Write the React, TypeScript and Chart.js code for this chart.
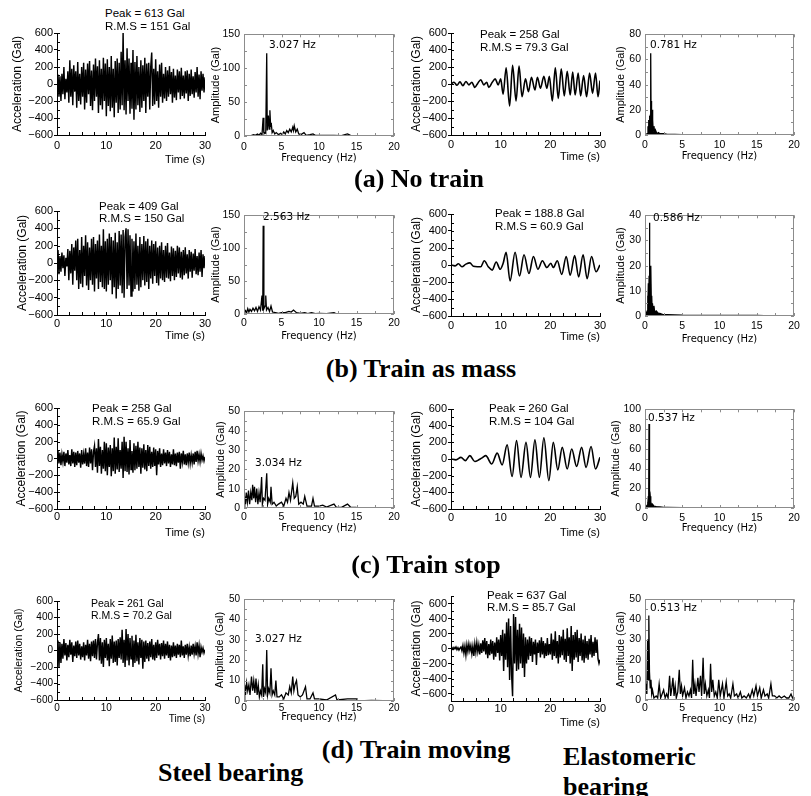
import React, { useEffect, useRef } from "react";
import { Chart, registerables } from "chart.js";
Chart.register(...registerables);

const SANS = '"Liberation Sans", Arial, sans-serif';
const DEJA = '"DejaVu Sans", sans-serif';
const SERIF = '"Liberation Serif", "Times New Roman", serif';

// ---------- Steel bearing acceleration records (Gal), 0..30 s, evenly spaced ----------
const accSteelNoTrain: number[] = [
  0, 110, -150, 90, -200, 120, -120, 200, -180, 60,
  -100, 150, -220, 280, -150, 180, -250, 220, -90, 150,
  -280, 260, -200, 120, -240, 200, -150, 250, -300, 170,
  -220, 240, -120, 270, -260, 160, -310, 230, -200, 300,
  -150, 210, -340, 280, -250, 180, -300, 310, -200, 240,
  -380, 290, -260, 200, -320, 330, -280, 180, -390, 270,
  -220, 300, -340, 250, -300, 380, -250, 613, -310, 280,
  -360, 420, -200, 300, -350, 250, -290, 400, -420, 260,
  -300, 330, -250, 200, -330, 280, -280, 220, -200, 310,
  -340, 240, -150, 250, -300, 200, 370, -260, 180, -240,
  290, -200, 150, -280, 230, -150, 250, -220, 120, -170,
  200, -200, 160, -150, 210, -120, 140, -220, 180, -160,
  100, -190, 170, -100, 150, -180, 190, -140, 100, -170,
  150, -110, 160, -200, 120, -140, 170, -120, 90, -160,
  140, -100, 200, -150, 110, -180, 150, -80, 120, -100,
  80,
];
const accSteelMass: number[] = [
  0, 150, -130, 80, -100, 120, -60, 90, -150, 60,
  -40, 160, -200, 140, -120, 220, -250, 180, -90, 260,
  -200, 280, -300, 150, -240, 300, -280, 200, -150, 320,
  -260, 240, -310, 180, -200, 280, -250, 300, -330, 220,
  -180, 260, -300, 330, -220, 200, -280, 390, -300, 250,
  -330, 280, -250, 340, -200, 300, -360, 260, -280, 350,
  -410, 240, -300, 370, -260, 330, -350, 380, -400, 300,
  400, -300, 390, -260, 320, -380, 280, -330, 250, -300,
  340, -250, 200, -320, 300, -280, 220, -200, 310, -260,
  250, -220, 280, -300, 200, -180, 260, -240, 220, -150,
  250, -230, 180, -260, 200, -180, 240, -200, 150, -220,
  200, -170, 230, -180, 120, -210, 190, -150, 170, -200,
  140, -160, 200, -120, 180, -170, 130, -190, 150, -140,
  180, -120, 100, -180, 150, -100, 130, -170, 110, -90,
  160, -130, 80, -140, 120, -100, 150, -160, 100, -60,
  80,
];
const accSteelStop: number[] = [
  0, 90, -60, 70, -80, 50, -40, 80, -90, 60,
  -50, 100, -70, 40, -90, 110, -60, 80, -100, 70,
  -80, 90, -50, 60, -110, 100, -70, 50, -60, 120,
  -90, 70, -100, 130, -60, 110, -140, 80, 150, -100,
  120, -170, 230, -90, 140, -180, 100, -120, 200, -150,
  180, -200, 130, -100, 160, -210, 120, -150, 250, -180,
  140, -130, 240, -160, 100, -120, 200, -230, 258, -150,
  200, -160, 120, -190, 220, -130, 90, -170, 180, -140,
  150, -120, 200, -100, 130, -180, 120, -110, 170, -130,
  100, -150, 160, -90, 140, -120, 80, -100, 130, -90,
  110, -200, 90, -70, 120, -100, 60, -80, 110, -60,
  70, -90, 100, -60, 80, -100, 50, -70, 110, -80,
  60, -90, 70, -50, 80, -120, 60, -40, 90, -70,
  50, -80, 60, -50, 70, -60, 40, -50, 60, -70,
  80, -40, 90, -30, 50, -40, 60, -20, 30, -30,
  20,
];
const accSteelMoving: number[] = [
  0, 120, -200, 100, -150, 80, -100, 140, -60, 90,
  -120, 70, -80, 130, -50, 100, -140, 60, -70, 110,
  -90, 120, -60, 80, -110, 50, -80, 100, -120, 70,
  -60, 130, -100, 80, -130, 110, -70, 120, -90, 140,
  -110, 90, 200, -120, 150, -160, 100, -200, 130, -90,
  150, -120, 80, -190, 140, -100, 180, -150, 110, -140,
  120, -180, 140, -90, 160, -110, 250, -150, 130, -200,
  261, -120, 200, -180, 150, -100, 180, -200, 120, -150,
  190, -130, 100, -170, 150, -90, 130, -220, 110, -140,
  120, -100, 90, -130, 110, -80, 140, -110, 70, -120,
  100, -90, 130, -60, 80, -110, 90, -70, 120, -100,
  80, -60, 110, -90, 70, -120, 60, -80, 100, -70,
  60, -90, 80, -50, 70, -80, 120, -60, 50, -90,
  70, -50, 80, -60, 40, -70, 60, -50, 80, -40,
  50, -60, 100, -40, 60, -80, 40, -20, 30, -30,
  10,
];
// ---------- Elastomeric bearing acceleration records ----------
// smooth records: [time s, acceleration Gal] at the turning points
const accElasNoTrain: [number, number][] = [
  [0, 0], [0.6, 20], [1.2, -15], [1.8, 25], [2.4, -20], [3, 30], [3.6, -10], [4.2, 20], [4.8, -40], [5.4, 10],
  [6, 50], [6.6, -10], [7.2, 20], [7.6, -40], [8.3, 20], [8.9, 60], [9.5, -10], [10, 60], [10.5, -120], [11.1, 190],
  [11.8, -258], [12.4, 220], [13.1, -200], [13.7, 210], [14.3, -150], [15.0, 60], [15.6, -90], [16.2, 80], [16.9, -70], [17.4, 80],
  [18.0, -50], [18.7, 90], [19.3, -50], [19.8, 90], [20.4, -200], [21.0, 190], [21.6, -170], [22.2, 180], [22.8, -140], [23.4, 150],
  [24.0, -130], [24.5, 140], [25.0, -130], [25.6, 130], [26.1, -140], [26.7, 100], [27.3, -150], [27.9, 130], [28.5, -110], [29.1, 130],
  [29.6, -150], [30, 40],
];
const accElasMass: [number, number][] = [
  [0, 0], [0.8, -10], [1.5, 15], [2.2, -20], [3, 10], [3.8, 25], [4.5, -15], [5.3, -20], [6, -20], [6.7, 50],
  [7.5, -20], [8.3, -60], [9.1, 35], [9.9, -50], [10.5, 20], [11.1, 150], [11.9, -189], [12.9, 150], [13.8, -130], [14.7, 120],
  [15.7, -100], [16.6, 100], [17.5, -50], [18.4, 50], [19.3, -30], [20.1, 20], [20.6, -30], [21.4, 50], [22.3, -110], [23.2, 100],
  [24.0, -120], [24.9, 110], [25.7, -140], [26.6, 120], [27.4, -160], [28.3, 100], [29.2, -80], [30, 0],
];
const accElasStop: [number, number][] = [
  [0, 0], [1, -10], [2, 20], [2.9, -20], [3.8, 40], [4.8, -30], [5.6, -10], [6.4, 20], [7, 40], [8.2, -60],
  [9.3, 70], [10.3, -70], [11.3, 170], [12.3, -210], [13.2, 220], [14.1, -220], [15.1, 200], [16, -220], [16.9, 230], [17.8, -220],
  [18.7, 255], [19.7, -260], [20.6, 200], [21.5, -130], [22.4, 140], [23.4, -120], [24.3, 120], [25.3, -90], [26.3, 140], [27.2, -100],
  [28.2, 150], [29.1, -120], [30, 20],
];
const accElasMoving: number[] = [
  0, 10, -10, 15, -5, 20, -15, 10, -20, 5,
  20, -30, 40, -60, 30, -90, 50, -40, 60, -30,
  40, -70, 30, -100, 60, -50, 80, -40, 50, -80,
  70, -60, 110, -40, 140, -80, 100, -130, 60, -90,
  120, -70, 100, -150, 80, -110, 150, -60, 120, -160,
  180, -100, 250, -300, 200, -150, 350, -250, 400, -420,
  300, -350, -637, 460, -200, 420, -300, 250, -280, 330,
  -200, 280, -260, 200, -380, 150, -200, 120, -150, 160,
  -100, 140, -180, 90, -80, 120, -220, 80, -60, 110,
  -120, 150, -80, 100, -130, 70, -100, 140, -90, 60,
  -80, 200, -150, 120, -100, 230, -130, 100, -200, 180,
  -120, 160, -90, 250, -150, 130, -180, 270, -100, 150,
  -200, 300, -300, 180, -150, 220, -120, 250, -180, 140,
  -100, 200, -160, 120, -190, 170, -130, 100, -150, 130,
  -80, 180, -120, 90, -100, 150, -60, 120, -140, -200,
  -150,
];

// ---------- Fourier amplitude spectra: [frequency Hz, amplitude Gal] ----------
const specSteelNoTrain: [number, number][] = [
  [0, 0], [0.5, 0.5], [1, 1], [1.3, 2], [1.5, 1], [1.8, 3], [2, 1], [2.2, 4], [2.4, 2], [2.55, 27],
  [2.65, 3], [2.8, 5], [2.9, 4], [3.03, 122], [3.1, 8], [3.25, 30], [3.35, 10], [3.45, 38], [3.55, 15], [3.65, 17],
  [3.75, 5], [3.9, 8], [4.1, 3], [4.3, 5], [4.6, 2], [4.9, 4], [5.1, 2], [5.3, 6], [5.5, 3], [5.7, 8],
  [5.9, 5], [6.1, 10], [6.3, 6], [6.5, 13], [6.6, 8], [6.7, 15], [6.9, 6], [7.1, 10], [7.3, 3], [7.6, 2],
  [8, 5], [8.3, 1], [8.8, 2], [9.2, 3], [9.5, 1], [10, 1], [11, 0.8], [12, 1], [13, 0.6], [13.8, 3],
  [14.2, 1], [15, 0.5], [16, 0.3], [17, 0.5], [17.2, 0], [20, 0],
];
const specSteelMass: [number, number][] = [
  [0, 0], [0.2, 5], [0.35, 2], [0.5, 8], [0.65, 3], [0.8, 7], [1, 4], [1.2, 9], [1.4, 5], [1.6, 10],
  [1.8, 4], [2, 11], [2.2, 6], [2.4, 28], [2.5, 5], [2.56, 134], [2.65, 8], [2.8, 12], [2.9, 28], [3.0, 6],
  [3.2, 10], [3.4, 4], [3.6, 12], [3.8, 3], [4.2, 2], [4.6, 1], [5, 2], [5.5, 2], [6, 4], [6.3, 3],
  [6.6, 6], [7, 2], [7.5, 1], [8.1, 2], [8.5, 0.5], [9, 2], [9.5, 0.5], [10, 1], [11, 0.5], [12, 2],
  [12.3, 0.3], [14, 0.5], [15, 0.5], [17, 0.3], [17.2, 0], [20, 0],
];
const specSteelStop: [number, number][] = [
  [0, 0], [0.1, 6], [0.2, 2], [0.3, 8], [0.45, 3], [0.6, 9], [0.75, 2], [0.9, 8], [1.05, 4], [1.15, 12],
  [1.3, 5], [1.4, 11], [1.55, 3], [1.7, 10], [1.85, 2], [2, 8], [2.15, 3], [2.35, 16], [2.45, 2], [2.6, 5],
  [2.8, 4], [3.03, 18], [3.15, 2], [3.3, 5], [3.5, 3], [3.6, 11], [3.75, 2], [4, 3], [4.3, 1], [4.6, 2],
  [5, 3], [5.3, 1], [5.6, 5], [5.8, 3], [6.0, 8], [6.2, 4], [6.5, 13], [6.7, 5], [6.9, 6], [7.1, 11],
  [7.3, 2], [7.6, 3], [7.9, 2], [8.1, 6], [8.4, 1], [9, 1], [9.2, 5], [9.4, 1], [10, 1], [10.5, 1.5],
  [11, 0.5], [12, 2], [12.3, 0.5], [13, 0.3], [13.8, 2], [14.2, 0.5], [15, 0.3], [17, 0.2], [20, 0],
];
const specSteelMoving: [number, number][] = [
  [0, 0], [0.1, 8], [0.2, 3], [0.35, 9], [0.5, 5], [0.65, 8], [0.8, 3], [1, 12], [1.15, 5], [1.3, 10],
  [1.45, 4], [1.6, 11], [1.75, 3], [1.9, 8], [2.05, 2], [2.2, 5], [2.35, 3], [2.5, 18], [2.6, 2], [2.75, 6],
  [2.9, 4], [3.03, 25], [3.15, 3], [3.3, 6], [3.45, 4], [3.6, 16], [3.75, 3], [3.9, 5], [4.1, 3], [4.25, 10],
  [4.4, 2], [4.7, 2], [5, 3], [5.3, 1], [5.6, 4], [5.9, 3], [6.1, 7], [6.3, 4], [6.5, 12], [6.65, 5],
  [6.8, 8], [7, 10], [7.2, 3], [7.5, 2], [7.8, 3], [8.2, 7], [8.4, 1], [8.8, 1], [9.2, 4], [9.4, 1],
  [10, 1], [11, 0.5], [12.2, 3], [12.4, 0.5], [13.8, 1], [15, 1], [15.2, 0], [17, 0.3], [20, 0],
];
const specElasNoTrain: [number, number][] = [
  [0, 0], [0.3, 1], [0.4, 7], [0.45, 2], [0.5, 12], [0.55, 4], [0.6, 15], [0.65, 5], [0.7, 16], [0.75, 8],
  [0.78, 65], [0.82, 10], [0.86, 27], [0.9, 8], [0.95, 20], [1.0, 6], [1.05, 12], [1.1, 3], [1.2, 7], [1.3, 2],
  [1.4, 4], [1.6, 1], [1.8, 2], [2, 1], [2.5, 1], [3, 0.5], [4, 0.5], [5, 0.3], [7, 0.3], [9, 0.2],
  [10, 0], [20, 0],
];
const specElasMass: [number, number][] = [
  [0, 0], [0.3, 2], [0.35, 8], [0.4, 3], [0.45, 13], [0.5, 5], [0.55, 16], [0.586, 37], [0.62, 8], [0.66, 20],
  [0.7, 6], [0.75, 15], [0.8, 20], [0.85, 5], [0.9, 8], [0.95, 3], [1.0, 5], [1.1, 2], [1.2, 4], [1.3, 1.5],
  [1.5, 2], [1.8, 1], [2, 1], [2.5, 0.5], [3, 0.5], [5, 0.3], [10, 0.2], [15, 0.2], [17, 0], [20, 0],
];
const specElasStop: [number, number][] = [
  [0, 0], [0.3, 3], [0.35, 6], [0.4, 4], [0.45, 12], [0.5, 8], [0.537, 85], [0.57, 15], [0.6, 30], [0.65, 8],
  [0.7, 12], [0.75, 4], [0.8, 6], [0.9, 3], [1.0, 4], [1.2, 2], [1.5, 1.5], [2, 1], [2.5, 0.5], [3, 0.5],
  [5, 0.3], [10, 0.2], [17, 0], [20, 0],
];
const specElasMoving: [number, number][] = [
  [0, 0], [0.15, 8], [0.25, 3], [0.35, 30], [0.45, 10], [0.513, 42], [0.6, 14], [0.7, 6], [0.8, 10], [0.9, 3],
  [1, 5], [1.2, 1], [1.5, 2], [1.7, 1], [1.9, 8], [2.1, 1], [2.3, 3], [2.5, 5], [2.7, 1], [2.9, 3],
  [3.1, 1], [3.3, 12], [3.45, 2], [3.6, 6], [3.75, 11], [3.9, 2], [4.05, 7], [4.2, 1], [4.4, 4], [4.6, 15],
  [4.75, 3], [4.9, 7], [5.05, 2], [5.3, 6], [5.5, 1], [5.7, 4], [5.9, 2], [6.1, 5], [6.25, 1], [6.4, 20],
  [6.55, 3], [6.7, 8], [6.85, 2], [7.1, 11], [7.25, 4], [7.45, 12], [7.6, 2], [7.8, 21], [7.95, 3], [8.1, 8],
  [8.3, 2], [8.5, 5], [8.65, 1], [8.8, 18], [8.95, 4], [9.1, 10], [9.3, 2], [9.5, 4], [9.7, 1], [9.9, 10],
  [10.1, 2], [10.4, 8], [10.6, 1], [10.9, 9], [11.1, 2], [11.3, 3], [11.5, 1], [11.8, 8], [12, 2], [12.3, 3],
  [12.5, 1], [12.8, 4], [13, 1], [13.3, 2], [13.6, 1], [13.9, 3], [14.1, 1], [14.4, 5], [14.6, 2], [14.9, 7],
  [15.1, 2], [15.4, 6], [15.6, 1], [15.9, 5], [16.1, 2], [16.4, 3], [16.6, 1], [16.9, 8], [17.1, 2], [17.4, 2],
  [17.7, 1], [18, 2], [18.3, 1], [18.7, 2], [19, 1], [19.3, 1], [19.6, 3], [19.8, 1], [20, 2],
];

// ---------- axis ticks ----------
const accTicks = [-600, -400, -200, 0, 200, 400, 600];
const timeTicks = [0, 10, 20, 30];
const freqTicks = [0, 5, 10, 15, 20];

type Spec = {
  kind: "time" | "spec";
  dense?: number[];
  pairs?: [number, number][];
  smooth?: boolean;
  fill?: boolean;
  left: number; top: number; w: number; h: number;
  yMin: number; yMax: number; yStep: number;
  yTitleX: number; labelGap: number; titleGap: number;
  fs: number; ytfs: number; xtfs: number;
};

const TIME_DUR = 30;

function geom(s: Spec) {
  const Pt = 8, Pr = 12;
  const Wy = Math.round(s.left - s.yTitleX + (s.ytfs * 1.2) / 2);
  const Hx = Math.round(s.titleGap + (s.xtfs * 1.2) / 2);
  return { Pt, Pr, Wy, Hx, cl: s.left - Wy, ct: s.top - Pt, cw: Wy + s.w + Pr, ch: Pt + s.h + Hx };
}

function innerTicks(s: Spec) {
  return {
    id: "innerTicks",
    afterDraw(chart: any) {
      const { ctx, chartArea: a, scales } = chart;
      const xs = scales.x, ys = scales.y;
      const isTime = s.kind === "time";
      ctx.save();
      ctx.strokeStyle = isTime ? "#000" : "#8c8c8c";
      ctx.lineWidth = 1;
      ctx.beginPath();
      const xMax = isTime ? 30 : 20;
      for (let v = 0; v <= xMax + 1e-6; v += 2.5) {
        const p = Math.round(xs.getPixelForValue(v)) + 0.5;
        ctx.moveTo(p, a.bottom); ctx.lineTo(p, a.bottom - 3);
        if (!isTime) { ctx.moveTo(p, a.top); ctx.lineTo(p, a.top + 3); }
      }
      const ym = isTime ? 100 : s.yStep / 2;
      for (let v = s.yMin; v <= s.yMax + 1e-6; v += ym) {
        const p = Math.round(ys.getPixelForValue(v)) + 0.5;
        ctx.moveTo(a.left, p); ctx.lineTo(a.left + 3, p);
        if (!isTime) { ctx.moveTo(a.right, p); ctx.lineTo(a.right - 3, p); }
      }
      ctx.stroke();
      if (!isTime) {
        ctx.strokeRect(Math.round(a.left) + 0.5, Math.round(a.top) + 0.5, Math.round(a.width) - 1, Math.round(a.height) - 1);
      }
      ctx.restore();
    },
  };
}

function minus(v: number) {
  return v < 0 ? "\u2212" + Math.abs(v) : String(v);
}

function buildConfig(s: Spec, g: ReturnType<typeof geom>): any {
  const isTime = s.kind === "time";
  let points: { x: number; y: number }[];
  if (s.dense) {
    const n = s.dense.length;
    points = s.dense.map((v, i) => ({ x: (i * TIME_DUR) / (n - 1), y: v }));
  } else {
    points = (s.pairs || []).map(([x, y]) => ({ x, y }));
  }
  const yTitleText = isTime ? "Acceleration (Gal)" : "Amplitude (Gal)";
  const xTitleText = isTime ? "Time (s)" : "Frequency (Hz)";
  const yTickVals = isTime ? accTicks : (() => { const t: number[] = []; for (let v = s.yMin; v <= s.yMax + 1e-6; v += s.yStep) t.push(v); return t; })();
  const xTickVals = isTime ? timeTicks : freqTicks;
  return {
    type: "line",
    data: {
      datasets: [
        {
          data: points,
          borderColor: "#000",
          backgroundColor: "#000",
          borderWidth: s.smooth ? 1.6 : isTime ? 1.45 : 1.3,
          pointRadius: 0,
          tension: 0,
          cubicInterpolationMode: s.smooth ? "monotone" : "default",
          fill: s.fill ? "origin" : false,
        },
      ],
    },
    options: {
      responsive: false,
      animation: false,
      events: [],
      layout: { padding: { top: g.Pt, right: g.Pr, left: 0, bottom: 0 } },
      plugins: { legend: { display: false }, tooltip: { enabled: false } },
      scales: {
        x: {
          type: "linear",
          min: 0,
          max: isTime ? 30 : 20,
          afterBuildTicks: (sc: any) => { sc.ticks = xTickVals.map((v) => ({ value: v })); },
          afterFit: (sc: any) => { sc.height = g.Hx; },
          ticks: {
            color: "#000",
            font: { family: SANS, size: s.fs },
            padding: Math.max(0, s.labelGap - 0.6 * s.fs),
            maxRotation: 0,
            autoSkip: false,
            callback: (v: number) => String(v),
          },
          grid: { display: false, drawOnChartArea: false, drawTicks: false },
          border: { display: isTime, color: "#000", width: 1 },
          title: {
            display: true,
            text: xTitleText,
            align: isTime ? "end" : "center",
            color: "#000",
            padding: 0,
            font: { family: isTime ? SANS : DEJA, size: s.xtfs },
          },
        },
        y: {
          type: "linear",
          min: s.yMin,
          max: s.yMax,
          afterBuildTicks: (sc: any) => { sc.ticks = yTickVals.map((v) => ({ value: v })); },
          afterFit: (sc: any) => { sc.width = g.Wy; },
          ticks: {
            color: "#000",
            font: { family: SANS, size: s.fs },
            padding: isTime ? 1 : 4,
            autoSkip: false,
            callback: (v: number) => minus(v),
          },
          grid: { display: isTime, drawOnChartArea: false, drawTicks: isTime, tickLength: 3, color: "#000" },
          border: { display: isTime, color: "#000", width: 1 },
          title: {
            display: true,
            text: yTitleText,
            color: "#000",
            padding: 0,
            font: { family: SANS, size: s.ytfs },
          },
        },
      },
    },
    plugins: [innerTicks(s)],
  };
}

function Plot({ s }: { s: Spec }) {
  const ref = useRef<HTMLCanvasElement>(null);
  const g = geom(s);
  useEffect(() => {
    const chart = new Chart(ref.current as HTMLCanvasElement, buildConfig(s, g));
    return () => chart.destroy();
  }, []);
  return (
    <canvas
      ref={ref}
      width={g.cw}
      height={g.ch}
      style={{ position: "absolute", left: g.cl, top: g.ct, width: g.cw, height: g.ch }}
    />
  );
}

const T = { kind: "time" as const, yMin: -600, yMax: 600, yStep: 200, fs: 11, ytfs: 12, xtfs: 11 };
const S = { kind: "spec" as const, fs: 10.5, ytfs: 11, xtfs: 10 };

const plots: Spec[] = [
  { ...T, dense: accSteelNoTrain, left: 57, top: 33, w: 148, h: 102, yTitleX: 17, labelGap: 11, titleGap: 25 },
  { ...S, pairs: specSteelNoTrain, left: 244, top: 32, w: 150, h: 104, yMin: 0, yMax: 150, yStep: 50, yTitleX: 216, labelGap: 11, titleGap: 22 },
  { ...T, pairs: accElasNoTrain, smooth: true, left: 451, top: 33, w: 149, h: 102, yTitleX: 416, labelGap: 10, titleGap: 22 },
  { ...S, pairs: specElasNoTrain, fill: true, left: 645, top: 32, w: 149, h: 103, yMin: 0, yMax: 80, yStep: 20, yTitleX: 621, labelGap: 10, titleGap: 21 },

  { ...T, dense: accSteelMass, left: 57, top: 211, w: 148, h: 104, yTitleX: 22, labelGap: 9, titleGap: 21 },
  { ...S, pairs: specSteelMass, left: 244, top: 213, w: 150, h: 101, yMin: 0, yMax: 150, yStep: 50, yTitleX: 216, labelGap: 9, titleGap: 22 },
  { ...T, pairs: accElasMass, smooth: true, left: 451, top: 214, w: 149, h: 102, yTitleX: 416, labelGap: 10, titleGap: 21 },
  { ...S, pairs: specElasMass, fill: true, left: 645, top: 213, w: 149, h: 103, yMin: 0, yMax: 40, yStep: 10, yTitleX: 621, labelGap: 10, titleGap: 23 },

  { ...T, dense: accSteelStop, left: 57, top: 408, w: 148, h: 101, yTitleX: 21, labelGap: 8, titleGap: 24 },
  { ...S, pairs: specSteelStop, left: 244, top: 409, w: 150, h: 99, yMin: 0, yMax: 50, yStep: 10, yTitleX: 221, labelGap: 9, titleGap: 20 },
  { ...T, pairs: accElasStop, smooth: true, left: 451, top: 409, w: 149, h: 100, yTitleX: 416, labelGap: 9, titleGap: 24 },
  { ...S, pairs: specElasStop, fill: true, left: 645, top: 407, w: 149, h: 101, yMin: 0, yMax: 100, yStep: 20, yTitleX: 616, labelGap: 10, titleGap: 20 },

  { ...T, dense: accSteelMoving, left: 57, top: 601, w: 148, h: 99, yTitleX: 19, labelGap: 8, titleGap: 19, fs: 10, ytfs: 10.5, xtfs: 10 },
  { ...S, pairs: specSteelMoving, left: 244, top: 597, w: 150, h: 104, yMin: 0, yMax: 50, yStep: 10, yTitleX: 220, labelGap: 7, titleGap: 16, fs: 10 },
  { ...T, dense: accElasMoving, left: 451, top: 596, w: 149, h: 105, yMin: -700, yMax: 700, yTitleX: 416, labelGap: 8, titleGap: 22 },
  { ...S, pairs: specElasMoving, left: 645, top: 597, w: 149, h: 103, yMin: 0, yMax: 50, yStep: 10, yTitleX: 621, labelGap: 8, titleGap: 19 },
];

// ---------- text annotations ----------
const statNotes: { lines: string[]; left: number; y: number; gap: number; size: number }[] = [
  { lines: ["Peak = 613 Gal", "R.M.S = 151 Gal"], left: 105, y: 13, gap: 13, size: 11.5 },
  { lines: ["Peak = 258 Gal", "R.M.S = 79.3 Gal"], left: 480, y: 34, gap: 13, size: 11.5 },
  { lines: ["Peak = 409 Gal", "R.M.S = 150 Gal"], left: 99, y: 206, gap: 12, size: 11.5 },
  { lines: ["Peak = 188.8 Gal", "R.M.S = 60.9 Gal"], left: 495, y: 213, gap: 13, size: 11.5 },
  { lines: ["Peak = 258 Gal", "R.M.S = 65.9 Gal"], left: 92, y: 408, gap: 13, size: 11.5 },
  { lines: ["Peak = 260 Gal", "R.M.S = 104 Gal"], left: 489, y: 408, gap: 13, size: 11.5 },
  { lines: ["Peak = 261 Gal", "R.M.S = 70.2 Gal"], left: 91, y: 603, gap: 12, size: 10.5 },
  { lines: ["Peak = 637 Gal", "R.M.S = 85.7 Gal"], left: 487, y: 594.5, gap: 12.5, size: 11.5 },
];
const hzNotes: { text: string; left: number; y: number }[] = [
  { text: "3.027 Hz", left: 269, y: 44 },
  { text: "0.781 Hz", left: 650, y: 44 },
  { text: "2.563 Hz", left: 263, y: 216 },
  { text: "0.586 Hz", left: 653, y: 217 },
  { text: "3.034 Hz", left: 255, y: 462 },
  { text: "0.537 Hz", left: 648, y: 417 },
  { text: "3.027 Hz", left: 255, y: 638 },
  { text: "0.513 Hz", left: 650, y: 607 },
];
const captions: { text: string; cx: number; top: number }[] = [
  { text: "(a) No train", cx: 419, top: 166 },
  { text: "(b) Train as mass", cx: 421, top: 356 },
  { text: "(c) Train stop", cx: 426, top: 552 },
  { text: "(d) Train moving", cx: 416, top: 737 },
];

export default function App() {
  return (
    <div style={{ position: "fixed", left: 0, top: 0, width: 811, height: 796, overflow: "hidden", background: "#fff" }}>
      {plots.map((s, i) => (
        <Plot key={i} s={s} />
      ))}
      {statNotes.map((n, i) =>
        n.lines.map((l, j) => (
          <div
            key={`s${i}-${j}`}
            style={{
              position: "absolute", left: n.left, top: n.y + j * n.gap - 7, height: 14, lineHeight: "14px",
              fontFamily: SANS, fontSize: n.size, color: "#000", whiteSpace: "nowrap",
            }}
          >
            {l}
          </div>
        ))
      )}
      {hzNotes.map((n, i) => (
        <div
          key={`h${i}`}
          style={{
            position: "absolute", left: n.left, top: n.y - 7, height: 14, lineHeight: "14px",
            fontFamily: DEJA, fontSize: 10.5, color: "#000", whiteSpace: "nowrap",
          }}
        >
          {n.text}
        </div>
      ))}
      {captions.map((c, i) => (
        <div
          key={`c${i}`}
          style={{
            position: "absolute", left: c.cx - 300, width: 600, top: c.top, textAlign: "center",
            fontFamily: SERIF, fontWeight: "bold", fontSize: 26, lineHeight: "26px", color: "#000", whiteSpace: "nowrap",
          }}
        >
          {c.text}
        </div>
      ))}
      <div
        style={{
          position: "absolute", left: 158, top: 760, fontFamily: SERIF, fontWeight: "bold",
          fontSize: 26, lineHeight: "26px", color: "#000", whiteSpace: "nowrap",
        }}
      >
        Steel bearing
      </div>
      <div
        style={{
          position: "absolute", left: 563, top: 742, fontFamily: SERIF, fontWeight: "bold",
          fontSize: 26, lineHeight: "30px", color: "#000",
        }}
      >
        Elastomeric
        <br />
        bearing
      </div>
    </div>
  );
}
